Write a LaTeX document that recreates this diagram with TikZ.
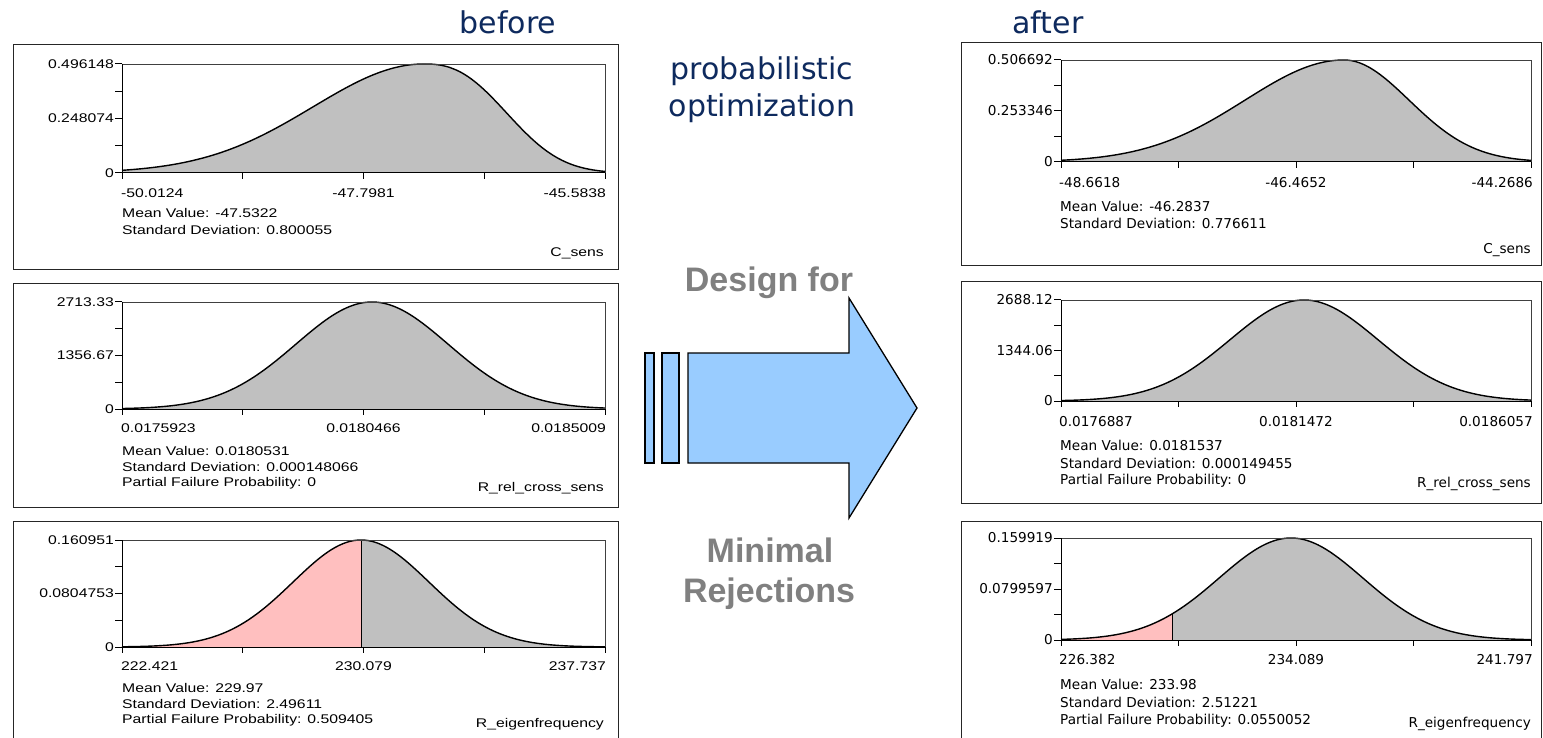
\documentclass[tikz,border=0pt]{standalone}
\usepackage{fontspec}
\setmainfont{DejaVu Sans}
\newfontfamily\lfont[FakeStretch=1.25]{Liberation Sans}
\newfontfamily\rfont{DejaVu Sans}
\newfontfamily\tfont{DejaVu Sans}
\newfontfamily\afont{Liberation Sans}
\definecolor{navy}{HTML}{0E2A5E}
\definecolor{grayfill}{HTML}{C0C0C0}
\definecolor{redfill}{HTML}{FFBFBF}
\definecolor{arrowblue}{HTML}{99CCFF}
\definecolor{labgray}{HTML}{808080}
\newcommand\plotaxes[4]{%
  \draw[frameline] (#1,#3) -- (#2,#3) -- (#2,#4);
  \draw[axisline] (#1,#3) -- (#1,#4) -- (#2,#4);
  \foreach \k in {0,1,2,3,4}{%
    \draw[axisline] (#1,{#3+(#4-#3)*\k/4}) -- ++(-7,0);
    \draw[axisline] ({#1+(#2-#1)*\k/4},#4) -- ++(0,6);
  }%
}
\begin{document}
\begin{tikzpicture}[x=1pt,y=-1pt,
  declare function={g(\t,\p,\l,\r)=exp(-0.5*(((\t)-(\p))/(((\t)<(\p))*(\l)+((\t)>=(\p))*(\r)))^2);
    gs(\t,\p,\l,\r)=((\t)<(\p))*exp(-0.5*(((\t)-(\p))/(\l))^2)+((\t)>=(\p))*exp(-0.5*((((\t)-(\p))/(\r))^2+0.0001)^1.25);},
  panel/.style={draw=black!85,line width=1pt},
  frameline/.style={draw=black!75,line width=0.9pt},
  axisline/.style={draw=black,line width=1pt},
  curveline/.style={draw=black,line width=1.4pt},
  ltxt/.style={font=\lfont\fontsize{12.6}{14}\selectfont,inner sep=0pt},
  rtxt/.style={font=\rfont\fontsize{13.6}{15}\selectfont,inner sep=0pt},
  title/.style={font=\tfont\fontsize{30}{34}\selectfont,text=navy,inner sep=0pt},
  biglab/.style={font=\afont\bfseries\fontsize{34}{38}\selectfont,text=labgray,inner sep=0pt},
  shaft/.style={draw=black,line width=1.3pt,fill=arrowblue,line join=miter}
]
\useasboundingbox (0,0) rectangle (1543,738);
\fill[white] (0,0) rectangle (1543,738);

% ---------------- titles ----------------
\node[title] (tbefore) at (508,22) {before};
\node[title] (tafter) at (1048,22) {after};
\node[title] (tprob) at (762,71) {probabilistic};
\node[title] (topt) at (762,108) {optimization};
\node[biglab] (tdesign) at (769,283) {Design for};
\node[biglab] (tmin) at (770,550) {Minimal};
\node[biglab] (trej) at (769,594) {Rejections};

% ---------------- arrow ----------------
\draw[shaft] (645,353) rectangle (654,463);
\draw[shaft] (662,353) rectangle (679,463);
\draw[shaft] (688,353) -- (849,353) -- (849,298) -- (917,408) -- (849,518) -- (849,463) -- (688,463) -- cycle;

% ================= LEFT PANEL 1 =================
\draw[panel] (13,45) rectangle (618,270);
\fill[grayfill] (122,173) -- plot[domain=122:605,samples=160] (\x,{173-109*gs(\x,424,111,77)}) -- (605,173) -- cycle;
\draw[curveline] plot[domain=122:605,samples=160] (\x,{173-109*gs(\x,424,111,77)});
\plotaxes{122}{605}{64}{173}
\node[ltxt,anchor=east] (l1y1) at (114,64) {0.496148};
\node[ltxt,anchor=east] (l1y2) at (114,118.5) {0.248074};
\node[ltxt,anchor=east] (l1y3) at (114,173) {0};
\node[ltxt,anchor=west] (l1x1) at (121,193) {-50.0124};
\node[ltxt] (l1x2) at (363.5,193) {-47.7981};
\node[ltxt,anchor=east] (l1x3) at (606,193) {-45.5838};
\node[ltxt,anchor=west] (l1m) at (122,213) {Mean Value: -47.5322};
\node[ltxt,anchor=west] (l1s) at (122,230) {Standard Deviation: 0.800055};
\node[ltxt,anchor=east] (l1n) at (604,253) {C\_sens};

% ================= LEFT PANEL 2 =================
\draw[panel] (13,284) rectangle (618,507);
\fill[grayfill] (122,409) -- plot[domain=122:605,samples=160] (\x,{409-107*g(\x,372,76,76)}) -- (605,409) -- cycle;
\draw[curveline] plot[domain=122:605,samples=160] (\x,{409-107*g(\x,372,76,76)});
\plotaxes{122}{605}{302}{409}
\node[ltxt,anchor=east] (l2y1) at (114,302) {2713.33};
\node[ltxt,anchor=east] (l2y2) at (114,355.5) {1356.67};
\node[ltxt,anchor=east] (l2y3) at (114,409) {0};
\node[ltxt,anchor=west] (l2x1) at (121,428) {0.0175923};
\node[ltxt] (l2x2) at (363.5,428) {0.0180466};
\node[ltxt,anchor=east] (l2x3) at (606,428) {0.0185009};
\node[ltxt,anchor=west] (l2m) at (122,451) {Mean Value: 0.0180531};
\node[ltxt,anchor=west] (l2s) at (122,467) {Standard Deviation: 0.000148066};
\node[ltxt,anchor=west] (l2p) at (122,483) {Partial Failure Probability: 0};
\node[ltxt,anchor=east] (l2n) at (604,488) {R\_rel\_cross\_sens};

% ================= LEFT PANEL 3 =================
\draw[panel] (13,521) -- (13,745) (13,521) -- (618,521) -- (618,745);
\fill[redfill] (122,647) -- plot[domain=122:361,samples=100] (\x,{647-107*g(\x,361,68,68)}) -- (361,647) -- cycle;
\fill[grayfill] (361,647) -- plot[domain=361:605,samples=100] (\x,{647-107*g(\x,361,68,68)}) -- (605,647) -- cycle;
\draw[curveline] plot[domain=122:605,samples=160] (\x,{647-107*g(\x,361,68,68)});
\draw[axisline] (361,647) -- (361,540);
\plotaxes{122}{605}{540}{647}
\node[ltxt,anchor=east] (l3y1) at (114,540) {0.160951};
\node[ltxt,anchor=east] (l3y2) at (114,593.5) {0.0804753};
\node[ltxt,anchor=east] (l3y3) at (114,647) {0};
\node[ltxt,anchor=west] (l3x1) at (121,666) {222.421};
\node[ltxt] (l3x2) at (363.5,666) {230.079};
\node[ltxt,anchor=east] (l3x3) at (606,666) {237.737};
\node[ltxt,anchor=west] (l3m) at (122,688) {Mean Value: 229.97};
\node[ltxt,anchor=west] (l3s) at (122,704) {Standard Deviation: 2.49611};
\node[ltxt,anchor=west] (l3p) at (122,720) {Partial Failure Probability: 0.509405};
\node[ltxt,anchor=east] (l3n) at (604,724) {R\_eigenfrequency};

% ================= RIGHT PANEL 1 =================
\draw[panel] (961,43) rectangle (1541,266);
\fill[grayfill] (1061,162) -- plot[domain=1061:1531,samples=160] (\x,{162-102*g(\x,1344,99,65)}) -- (1531,162) -- cycle;
\draw[curveline] plot[domain=1061:1531,samples=160] (\x,{162-102*g(\x,1344,99,65)});
\plotaxes{1061}{1531}{60}{162}
\node[rtxt,anchor=east] (r1y1) at (1053,60) {0.506692};
\node[rtxt,anchor=east] (r1y2) at (1053,111) {0.253346};
\node[rtxt,anchor=east] (r1y3) at (1053,162) {0};
\node[rtxt,anchor=west] (r1x1) at (1059,183) {-48.6618};
\node[rtxt] (r1x2) at (1296,183) {-46.4652};
\node[rtxt,anchor=east] (r1x3) at (1533,183) {-44.2686};
\node[rtxt,anchor=west] (r1m) at (1060,206) {Mean Value: -46.2837};
\node[rtxt,anchor=west] (r1s) at (1060,223) {Standard Deviation: 0.776611};
\node[rtxt,anchor=east] (r1n) at (1531,250) {C\_sens};

% ================= RIGHT PANEL 2 =================
\draw[panel] (961,282) rectangle (1541,503);
\fill[grayfill] (1061,401) -- plot[domain=1061:1531,samples=160] (\x,{401-101*g(\x,1304,74,74)}) -- (1531,401) -- cycle;
\draw[curveline] plot[domain=1061:1531,samples=160] (\x,{401-101*g(\x,1304,74,74)});
\plotaxes{1061}{1531}{300}{401}
\node[rtxt,anchor=east] (r2y1) at (1053,300) {2688.12};
\node[rtxt,anchor=east] (r2y2) at (1053,350.5) {1344.06};
\node[rtxt,anchor=east] (r2y3) at (1053,401) {0};
\node[rtxt,anchor=west] (r2x1) at (1059,422) {0.0176887};
\node[rtxt] (r2x2) at (1296,422) {0.0181472};
\node[rtxt,anchor=east] (r2x3) at (1533,422) {0.0186057};
\node[rtxt,anchor=west] (r2m) at (1060,445) {Mean Value: 0.0181537};
\node[rtxt,anchor=west] (r2s) at (1060,463) {Standard Deviation: 0.000149455};
\node[rtxt,anchor=west] (r2p) at (1060,481) {Partial Failure Probability: 0};
\node[rtxt,anchor=east] (r2n) at (1531,484) {R\_rel\_cross\_sens};

% ================= RIGHT PANEL 3 =================
\draw[panel] (961,745) -- (961,521) -- (1541,521) -- (1541,745);
\fill[redfill] (1061,640) -- plot[domain=1061:1172,samples=60] (\x,{640-102*g(\x,1291,72,72)}) -- (1172,640) -- cycle;
\fill[grayfill] (1172,640) -- plot[domain=1172:1531,samples=140] (\x,{640-102*g(\x,1291,72,72)}) -- (1531,640) -- cycle;
\draw[curveline] plot[domain=1061:1531,samples=160] (\x,{640-102*g(\x,1291,72,72)});
\draw[axisline] (1172,640) -- (1172,{640-102*exp(-0.5*((1172-1291)/72)^2)});
\plotaxes{1061}{1531}{538}{640}
\node[rtxt,anchor=east] (r3y1) at (1053,538) {0.159919};
\node[rtxt,anchor=east] (r3y2) at (1053,589) {0.0799597};
\node[rtxt,anchor=east] (r3y3) at (1053,640) {0};
\node[rtxt,anchor=west] (r3x1) at (1059,660) {226.382};
\node[rtxt] (r3x2) at (1296,660) {234.089};
\node[rtxt,anchor=east] (r3x3) at (1533,660) {241.797};
\node[rtxt,anchor=west] (r3m) at (1060,684) {Mean Value: 233.98};
\node[rtxt,anchor=west] (r3s) at (1060,702) {Standard Deviation: 2.51221};
\node[rtxt,anchor=west] (r3p) at (1060,721) {Partial Failure Probability: 0.0550052};
\node[rtxt,anchor=east] (r3n) at (1531,724) {R\_eigenfrequency};
\end{tikzpicture}
\end{document}
